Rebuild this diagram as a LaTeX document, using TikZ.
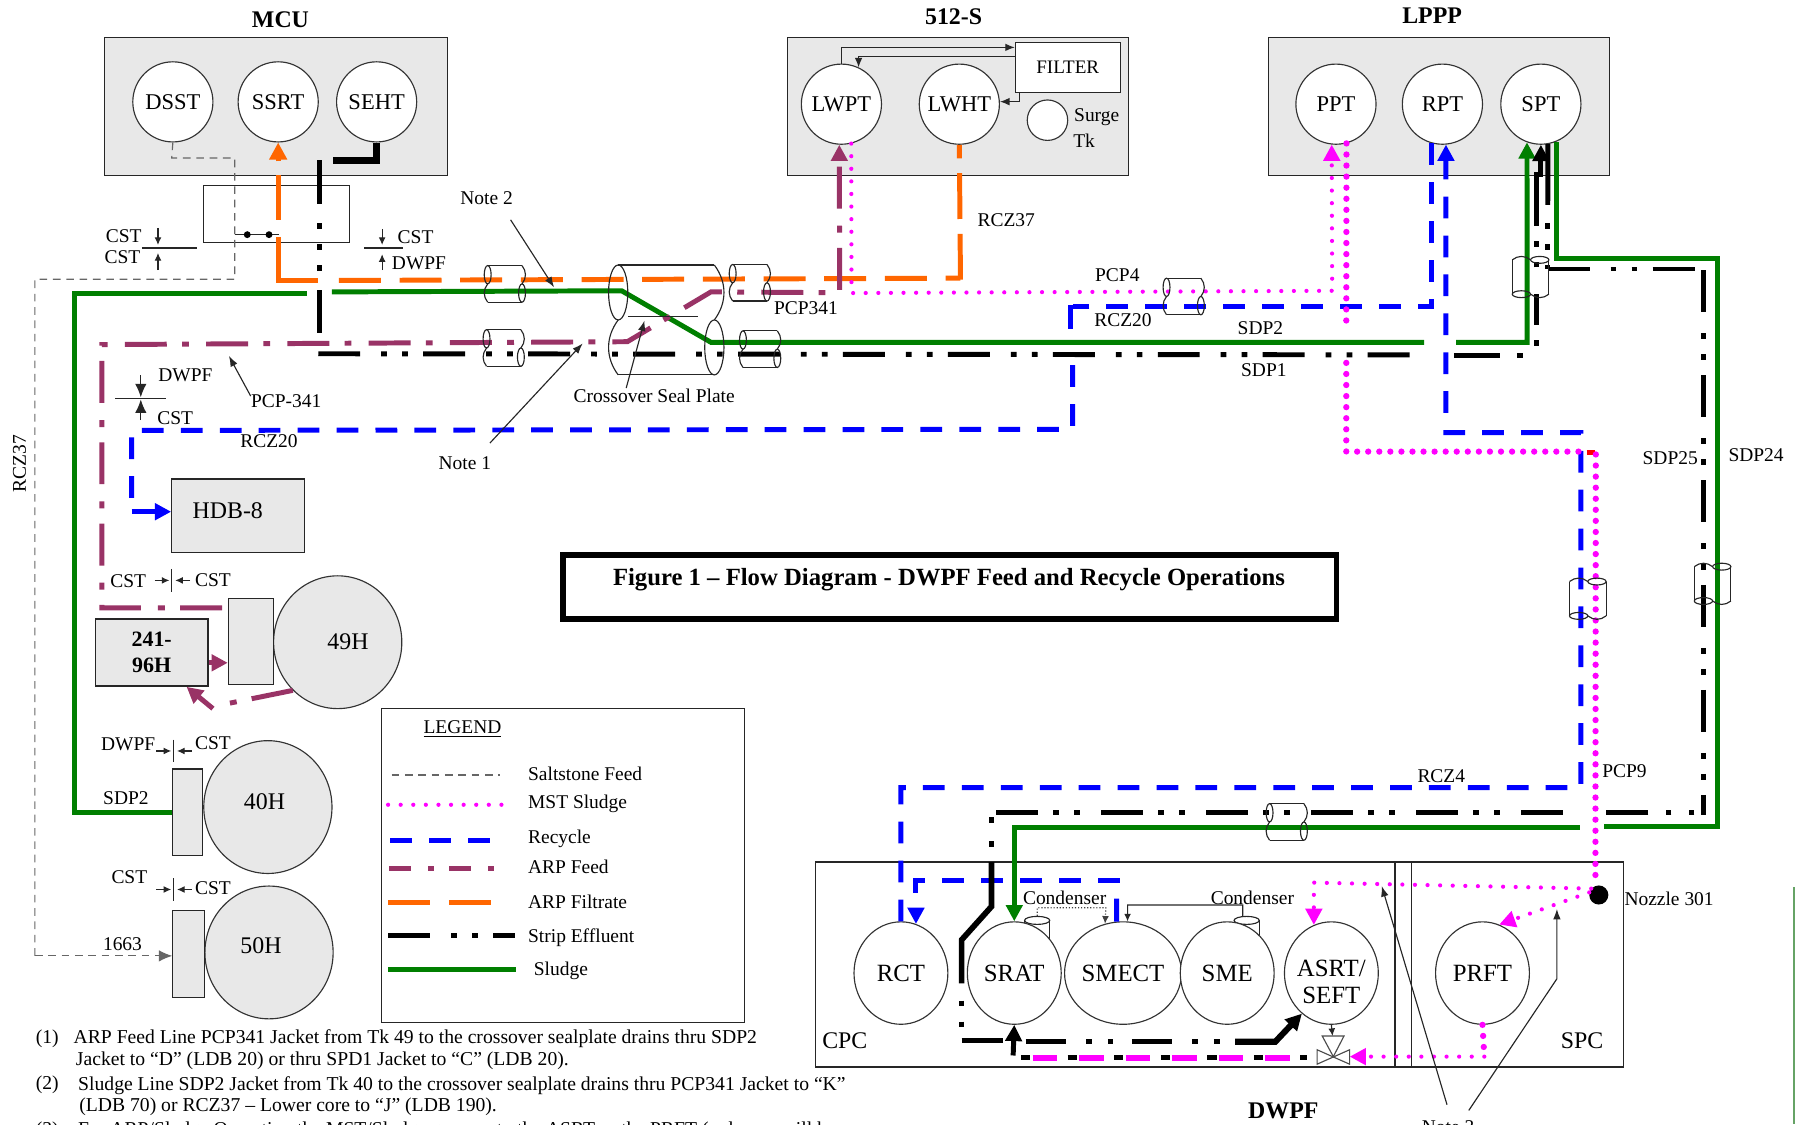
\documentclass[tikz,border=0pt]{standalone}
\usepackage{fontspec}
\setmainfont{Liberation Serif}
\usetikzlibrary{arrows.meta,shapes.geometric}
\definecolor{boxgray}{HTML}{E8E8E8}
\definecolor{pipegreen}{HTML}{007F00}
\definecolor{pipeblue}{HTML}{0000FF}
\definecolor{pipepurple}{HTML}{993366}
\definecolor{pipeorange}{HTML}{FF6600}
\definecolor{pipepink}{HTML}{FF00FF}
\tikzset{
 sized/.style 2 args={minimum width=#1*0.6pt,minimum height=#2*0.6pt},
 unit/.style={rectangle,draw=black!85,line width=.6pt,fill=boxgray,inner sep=0pt},
 plainbox/.style={rectangle,draw=black!85,line width=.6pt,inner sep=0pt},
 tank/.style={circle,draw=black!80,line width=.6pt,fill=white,inner sep=0pt,minimum size=42pt,font=\fontsize{11.8}{13}\selectfont},
 vessel/.style={ellipse,draw=black!80,line width=.6pt,fill=white,inner sep=0pt,sized={82}{89.5},font=\fontsize{13}{14}\selectfont},
 bigtank/.style={ellipse,draw=black!80,line width=.6pt,fill=boxgray,inner sep=0pt,sized={112}{116}},
 lbl/.style={inner sep=0pt,font=\fontsize{10.2}{11}\selectfont},
 biglbl/.style={inner sep=0pt,font=\fontsize{12.5}{15}\selectfont},
 heading/.style={inner sep=0pt,font=\fontsize{12.5}{15}\selectfont\bfseries},
 notetext/.style={inner sep=0pt,anchor=west,font=\fontsize{10.3}{11}\selectfont},
 thinline/.style={draw=black!85,line width=.6pt},
 leader/.style={draw=black!85,line width=.6pt,-{Latex[length=5.5pt,width=4pt]}},
 tickarrow/.style={draw=black!85,line width=.6pt,-{Latex[length=4pt,width=3.6pt]}},
 tipbig/.style={-{Triangle[length=8.5pt,width=8.5pt]}},
 sludge/.style={draw=pipegreen,line width=2.6pt},
 recycle/.style={draw=pipeblue,line width=2.6pt,dash pattern=on 11.4pt off 9pt},
 feed/.style={draw=pipepurple,line width=2.6pt,dash pattern=on 22pt off 8pt on 3.6pt off 9pt},
 legendfeed/.style={draw=pipepurple,line width=2.6pt,dash pattern=on 11.5pt off 9pt on 3pt off 8pt},
 filtrate/.style={draw=pipeorange,line width=2.6pt,dash pattern=on 22pt off 9.8pt},
 effluent/.style={draw=black,line width=2.6pt,dash pattern=on 22pt off 11pt on 3pt off 8pt on 3pt off 8pt},
 mstbig/.style={draw=pipepink,line width=3.3pt,line cap=round,dash pattern=on 0pt off 5.8pt},
 mstfine/.style={draw=pipepink,line width=2.2pt,line cap=round,dash pattern=on 0pt off 6.6pt},
 saltfeed/.style={draw=black!60,line width=.6pt,dash pattern=on 4pt off 3pt},
 pics/jacket/.style={code={
  \draw[thinline] (-15,-16)--(15,-16) (-15,16)--(15,16);
  \draw[thinline] (-15,-8) ellipse [x radius=3,y radius=8];
  \draw[thinline] (15,8) ellipse [x radius=3,y radius=8];
  \draw[thinline] (-15,0) .. controls (-19,5) and (-19,11) .. (-15,16);
  \draw[thinline] (15,-16) .. controls (19,-11) and (19,-5) .. (15,0);
 }}
}
\begin{document}
\begin{tikzpicture}[x=0.6pt,y=-0.6pt]
\clip (0,0) rectangle (1568,982);
% buildings
\node[unit,sized={300}{120.5}] (mcu) at (241,93) {};
\node[unit,sized={298}{120.5}] (fivetwelve) at (837,93) {};
\node[unit,sized={298}{120.5}] (lppp) at (1257,93) {};
\node[plainbox,sized={127.5}{50}] (valvebox) at (241.7,187) {};
\node[plainbox,sized={705.6}{179}] (dwpf) at (1065,842.5) {};
\node[plainbox,sized={317}{274}] (legend) at (492,756) {};
\node[rectangle,draw=black,line width=3pt,inner sep=0pt,sized={676}{56}] (figbox) at (829.5,513) {};
\draw[thinline] (1218.6,753)--(1218.6,932) (1233,753)--(1233,932);
% condensers sit behind the vessels
\foreach \x in {906,1089}{
 \draw[thinline] (\x-11,804)--(\x-11,826) (\x+11,804)--(\x+11,826);
 \draw[thinline] (\x,804) ellipse [x radius=11,y radius=3.5];
}
% tanks
\foreach \nm/\x in {DSST/151,SSRT/243,SEHT/329}
 \node[tank] (\nm) at (\x,89) {\nm};
\foreach \nm/\x in {PPT/1167,RPT/1260,SPT/1346,LWPT/735,LWHT/838}
 \node[tank] (\nm) at (\x,91) {\nm};
\foreach \nm/\x in {RCT/787,SRAT/886,SMECT/981,SME/1072,PRFT/1295}
 \node[vessel] (\nm) at (\x,850) {\nm};
\node[vessel] (ASRT) at (1163,850) {};
\node[circle,draw=black!80,line width=.6pt,fill=white,minimum size=21.2pt,inner sep=0pt] (surge) at (915,105) {};
\node[rectangle,draw=black!85,line width=.6pt,fill=white,inner sep=0pt,sized={91.5}{44},font=\fontsize{10}{12}\selectfont] (filter) at (932.7,59) {FILTER};
\node[bigtank] (T49) at (295,561) {};
\node[bigtank] (T40) at (234,705) {};
\node[bigtank] (T50) at (235,832) {};
\node[unit,sized={39.5}{75.5}] (jack49) at (219.2,560.3) {};
\node[unit,sized={26}{75.2}] (jack40) at (164,709.4) {};
\node[unit,sized={27.6}{76}] (jack50) at (164.8,833) {};
\node[unit,sized={116}{64.6}] (hdb) at (208,450.7) {};
\node[unit,sized={98.3}{58.5},align=center,font=\fontsize{11.5}{13.5}\selectfont\bfseries] (bldg) at (132.5,570) {241-\\96H};
\node[circle,fill=black,inner sep=0pt,minimum size=10pt] (noz) at (1396.6,781.8) {};
% saltstone
\draw[saltfeed] (DSST.south) -- (150,138) -- (205,138) -- (205,244) -- (30.5,244) -- (30.5,835);
\draw[saltfeed,-{Latex[length=7pt,width=6pt]}] (30.5,835) -- (jack50.west |- 0,835);
% filtrate
\draw[filtrate,solid] (243,153)--(243,192);
\draw[filtrate,solid] (243,207)--(243,245)--(278,245);
\draw[filtrate] (296,245)--(839,243);
\draw[filtrate,dash pattern=on 24pt off 7.8pt] (839,244.3)--(LWHT.south);
\draw[filtrate,solid,-{Triangle[length=9pt,width=9pt]}] (243,141)--(SSRT.south);
% sludge
\draw[sludge] (jack40.west) -| (65,256) -- (268,256);
\draw[sludge] (290,255)--(543,254)--(621,299)--(1244,299);
\draw[sludge,tipbig] (1272,299)--(1334,299)--(SPT.250);
\draw[sludge] (SPT.292) |- (1500,226)--(1500,722)--(1401,722);
\draw[sludge,tipbig] (1380,723) -| (SRAT.north);
% arp feed
\draw[feed,tipbig] (194,531)--(89,531)--(89,301)--(548,298.5)--(621,255)--(733.5,255.7)--(LWPT.267);
\draw[feed,solid,tipbig] (bldg.east |- 0,579)--(jack49.west |- 0,579);
\draw[feed] (T49.227)--(192,616);
\draw[feed,solid,tipbig] (186,619)--(163,600);
% recycle
\draw[recycle] (RPT.255) |- (937,268);
\draw[recycle,solid] (935.4,266.8)--(935.4,287);
\draw[recycle] (937,319)--(937,375)--(115,376)--(115,440);
\draw[recycle,solid,tipbig] (115,447)--(hdb.west |- 0,447);
\draw[recycle,tipbig] (RCT.north)--(787,688)--(1381,688)--(1381,378)--(1263,378)--(RPT.275);
\draw[recycle,tipbig] (978,769) -| (RCT.73);
\draw[recycle,solid] (975.4,785)--(SMECT.97);
% strip effluent
\draw[effluent,solid,line width=3.6pt] (SEHT.south) |- (291,140);
\draw[effluent,dash pattern=on 23pt off 10pt on 3pt off 8pt on 3pt off 8pt on 3pt off 10pt] (279.4,140)--(279.4,291);
\draw[effluent] (278,309)--(1237,310);
\draw[effluent,dash pattern=on 24pt off 9pt on 3pt off 9pt] (1270,310.5)--(1332,310.5);
\draw[effluent,dash pattern=on 3pt off 8pt on 16pt off 14pt on 3pt off 8pt on 3pt off 8pt on 26pt off 0pt] (1342,302)--(1342,150);
\draw[effluent,solid,tipbig] (1346,155)--(SPT.south);
\draw[effluent,solid] (SPT.280)--(1352,179);
\draw[effluent,dash pattern=on 3pt off 8pt] (1352,195)--(1352,235);
\draw[effluent] (1352,235)--(1488,235);
\draw[effluent] (1488,236)--(1488,712);
\draw[effluent,dash pattern=on 3pt off 9pt] (1480,710)--(1455,710);
\draw[effluent,solid] (1440,710)--(1403,710);
\draw[effluent] (1365,710)--(866,710);
\draw[effluent,dash pattern=on 3pt off 9.6pt] (866,714)--(866,741);
\draw[effluent,solid,line width=3pt] (866,753)--(866,792)--(840,821)--(840,859);
\draw[effluent,dash pattern=on 3pt off 8pt] (840,874)--(840,900);
\draw[effluent,solid,line width=3pt] (840,909)--(876,909);
\draw[effluent,dash pattern=on 21pt off 10.6pt on 3pt off 8.4pt on 3pt off 9.6pt] (896,910)--(1114,910);
\draw[effluent,solid,line width=3.2pt,tipbig] (1079,910)--(1114,910)--(ASRT.234);
\draw[effluent,solid,tipbig] (885,922)--(SRAT.south);
\draw[effluent,dash pattern=on 4.8pt off 19.6pt] (892,924)--(1142,924);
\draw[draw=pipepink,line width=3pt,dash pattern=on 12.9pt off 11.5pt] (902,924)--(1130,924);
% mst sludge
\draw[mstfine,tipbig] (LWPT.284)--(743.8,256)--(1163.7,254)--(PPT.264);
\draw[mstbig] (PPT.285)--(1176,282);
\draw[mstbig] (1176,317)--(1176,394.5)--(1388,394.5);
\draw[red,line width=2.6pt] (1386,395)--(1393,395);
\draw[mstbig] (1394,397)--(noz.110);
\draw[mstfine,tipbig] (noz.140)--(1147.7,771)--(ASRT.110);
\draw[mstfine,tipbig] (noz.165)--(PRFT.71);
\draw[mstbig] (PRFT.south)--(1296.6,923);
\draw[mstfine,tipbig] (1296.6,923)--(1179,923);
% valve below the asrt
\draw[thinline,black!70] (1150.5,917)--(1178.9,929.6)--(1178.9,917)--(1150.5,929.6)--cycle;
\draw[thinline,black!70] (1155,905)--(1174,905)--(1164.7,923)--cycle;
\draw[tickarrow] (ASRT.south)--(1164,905);
% lwpt and filter loop
\draw[thinline,-{Latex[length=5pt,width=4pt]}] (LWPT.north) |- (filter.north west |- 0,41.4);
\draw[thinline,-{Latex[length=5pt,width=4pt]}] (filter.west |- 0,49.5) -| (LWPT.65);
\draw[thinline,-{Latex[length=5pt,width=4pt]}] (890.4,81) |- (LWHT.east |- 0,88.8);
% condenser lines
\draw[draw=black!75,line width=.6pt,densely dotted,-{Latex[length=4pt,width=3.6pt]}] (906,800)--(906,793)--(966,793)--(SMECT.110);
\draw[thinline,-{Latex[length=4pt,width=3.6pt]}] (1085.6,800)--(1085.6,790.5)--(985,790.5)--(SMECT.85);
% valve box dots
\draw[thinline] (205,205)--(244,205);
\fill[black] (216,205) circle (3) (235,205) circle (3);
% cst/dwpf flush marks
\draw[thinline] (124,216.6)--(171.7,216.6) (318,216.6)--(352,216.6) (100.8,348)--(144.8,348);
\draw[tickarrow] (138,199)--(138,214); \draw[tickarrow] (138,236)--(138,221);
\draw[tickarrow] (333.8,200)--(333.8,214); \draw[tickarrow] (333.8,236)--(333.8,222);
\draw[thinline,-{Latex[length=7pt,width=6pt]}] (123,328)--(123,347);
\draw[thinline,-{Latex[length=7pt,width=6pt]}] (123,367)--(123,349);
\foreach \x/\y in {150/507,151.6/656,151.6/777}{
 \draw[thinline] (\x,\y-10)--(\x,\y+10);
 \draw[tickarrow] (\x-15,\y)--(\x-2,\y);
 \draw[tickarrow] (\x+16,\y)--(\x+3,\y);
}
% seal plate and jackets
\pic[xscale=2.8,yscale=3] at (582,279.5) {jacket};
\draw[thinline] (548.5,276.6)--(609.7,276.6);
\foreach \x/\y/\r in {441/248/0,440/304/0,655/247/0,664/305/0,1034/259/0,1124/718/0,1337/242/90,1387/523/90,1496/510/90}
 \pic[rotate=\r] at (\x,\y) {jacket};
% labels
\foreach \t/\x/\y in {CST/108/206,CST/107/225,CST/363/207,DWPF/366/230,RCZ20/235/385,DWPF/162/328,CST/153/365,
 RCZ37/879/192,PCP341/704/269,PCP4/976/240,RCZ20/981/280,SDP2/1101/287,SDP1/1104/323,SDP25/1459/400,SDP24/1534/398,
 CST/112/508,CST/186/507,DWPF/112/650,CST/186/649,SDP2/110/697,CST/113/766,CST/186/776,1663/107/825,
 Condenser/930/784,Condenser/1094/784,RCZ4/1259/678,PCP9/1419/674,Nozzle 301/1458/785,Surge/958/102,Tk/947/123}
 \node[lbl] (lab\x-\y) at (\x,\y) {\t};
\foreach \t/\x/\y in {49H/304/561,40H/231/700,50H/228/826,HDB-8/199/446,CPC/738/909,SPC/1382/909}
 \node[biglbl] (lab\x-\y) at (\x,\y) {\t};
\node[inner sep=0pt,align=center,font=\fontsize{13}{14}\selectfont] (asrtlbl) at (1163,858) {ASRT/\\SEFT};
\node[lbl,rotate=90] (rczleft) at (17,405) {RCZ37};
\foreach \t/\x/\y in {MCU/245/17,512-S/833/15,LPPP/1251/14,DWPF/1121/970}
 \node[heading] (head\x) at (\x,\y) {\t};
\node[heading,font=\fontsize{12.95}{15}\selectfont\bfseries] (figtitle) at (829,506) {Figure 1 – Flow Diagram - DWPF Feed and Recycle Operations};
% leaders
\node[lbl] (note1) at (406,405) {Note 1};
\node[lbl] (note2) at (425,173) {Note 2};
\node[lbl] (note3) at (1265,985) {Note 3};
\node[lbl] (pcplbl) at (250,350) {PCP-341};
\node[lbl] (seallbl) at (571.5,346) {Crossover Seal Plate};
\coordinate (noteonea) at (428,387);
\coordinate (noteoneb) at (509,300);
\coordinate (notetwoa) at (446,192);
\coordinate (notetwob) at (484,251);
\coordinate (pcpa) at (219,346);
\coordinate (pcpb) at (200,311);
\coordinate (seala) at (547,339);
\coordinate (sealb) at (563,280);
\coordinate (notethreea) at (1264,965);
\coordinate (notethreeb) at (1207,774);
\coordinate (notethreec) at (1283,970);
\draw[leader] (noteonea)--(noteoneb);
\draw[leader] (notetwoa)--(notetwob);
\draw[leader] (pcpa)--(pcpb);
\draw[leader] (seala)--(sealb);
\draw[leader] (notethreea)--(notethreeb);
\draw[leader] (notethreec)--(1360,855)--(1360,794);
% legend
\node[lbl] (legendhead) at (404,637) {\underline{LEGEND}};
\foreach \s/\xa/\xb/\y in {saltfeed/342/437/677,mstfine/339/439/703,recycle/341/428/734,legendfeed/340/437/759,filtrate/339/432/788,effluent/339/450/817,sludge/339/451/847}
 \draw[\s] (\xa,\y)--(\xb,\y);
\foreach \t/\x/\y in {Saltstone Feed/461/676,MST Sludge/461/702,Recycle/461/733,ARP Feed/461/757,ARP Filtrate/461/788,Strip Effluent/461/819,Sludge/466/848}
 \node[lbl,anchor=west] (leg\y) at (\x,\y) {\t};
% notes
\node[notetext] (noteonenum) at (31,907) {(1)};
\node[notetext] (noteoneline) at (64,907) {ARP Feed Line PCP341 Jacket from Tk 49 to the crossover sealplate drains thru SDP2};
\node[notetext] (noteonemore) at (66,927) {Jacket to “D” (LDB 20) or thru SPD1 Jacket to “C” (LDB 20).};
\node[notetext] (notetwonum) at (31,948) {(2)};
\node[notetext] (notetwoline) at (68,948) {Sludge Line SDP2 Jacket from Tk 40 to the crossover sealplate drains thru PCP341 Jacket to “K”};
\node[notetext] (notetwomore) at (69,967) {(LDB 70) or RCZ37 – Lower core to “J” (LDB 190).};
\node[notetext] (notethreenum) at (31,988) {(3)};
\node[notetext] (notethreeline) at (68,988) {For ARP/Sludge Operation the MST/Sludge goes up to the ASRT or the PRFT (only one will be};
% scan edge
\fill[green!40!black!60] (1566,775) rectangle (1568,982);
\end{tikzpicture}
\end{document}
